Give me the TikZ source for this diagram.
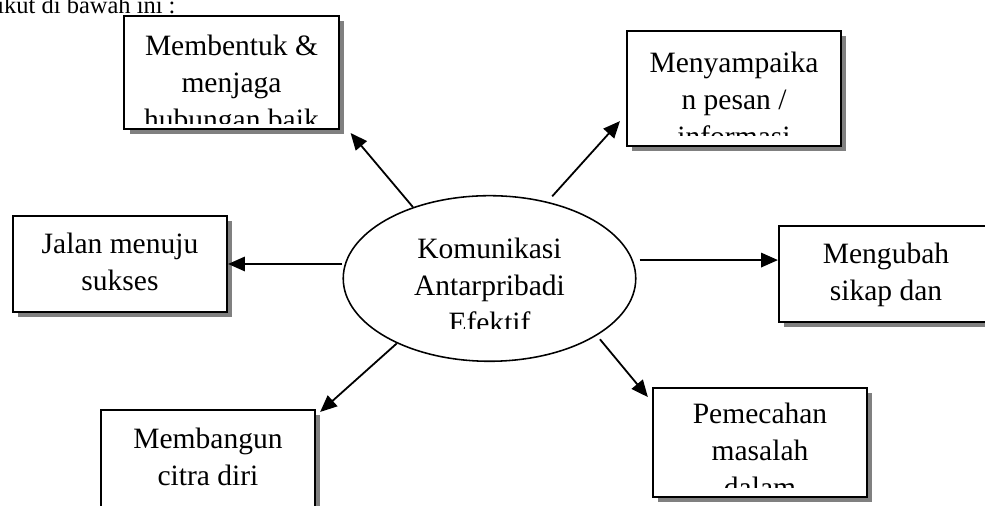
\documentclass[tikz,border=0pt]{standalone}
\usepackage{fontspec}
\setmainfont{Liberation Serif}
\usetikzlibrary{positioning,shadows,arrows.meta,shapes.geometric}

\tikzset{
  kotak/.style={rectangle, draw=black, line width=0.85pt, fill=white, minimum width=89.2pt, inner sep=0pt,
    drop shadow={shadow xshift=2.1pt, shadow yshift=-2.1pt, fill=black!50, opacity=1}},
  teks/.style={align=center, inner sep=0pt, font=\fontsize{12.3pt}{15.4pt}\selectfont},
  panah/.style={line width=0.75pt, -{Triangle[length=7pt,width=6pt]}},
}

\begin{document}
\begin{tikzpicture}[x=0.4167pt, y=0.4167pt]
\useasboundingbox (0,0) rectangle (985,506);
\clip (0,0) rectangle (985,506);

% lead-in line of the page
\node[teks, font=\fontsize{10.2pt}{13pt}\selectfont, anchor=base east] (intro) at (176,492) {berikut di bawah ini :};

% centre
\node[ellipse, draw=black, line width=0.65pt, minimum width=121.9pt, minimum height=69pt, inner sep=0pt] (ell) at (489.5,227.5) {};
\begin{scope}
\clip ([yshift=-21pt]ell.west) rectangle (ell.north -| ell.east);
\node[teks, anchor=north] (tE) at ([yshift=17pt]ell.center) {Komunikasi\\ Antarpribadi\\ Efektif};
\end{scope}

% boxes
\node[kotak, minimum height=47.1pt] (b1) at (231.5,433.5) {};
\begin{scope}
\clip ([yshift=2.9pt]b1.south west) rectangle (b1.north east);
\node[teks, below=8.3pt of b1.north] (t1) {Membentuk \&\\ menjaga\\ hubungan baik};
\end{scope}

\node[kotak, minimum height=47.95pt] (b2) at (734,417.5) {};
\begin{scope}
\clip ([yshift=5pt]b2.south west) rectangle (b2.north east);
\node[teks, below=9.1pt of b2.north] (t2) {Menyampaika\\ n pesan /\\ informasi};
\end{scope}

\node[kotak, minimum height=40pt] (b3) at (120,242) {};
\node[teks, below=7.4pt of b3.north] (t3) {Jalan menuju\\ sukses};

\node[kotak, minimum height=40pt] (b4) at (886,232) {};
\node[teks, below=7.4pt of b4.north] (t4) {Mengubah\\ sikap dan};

\node[kotak, minimum height=47.1pt] (b5) at (208,39.5) {};
\node[teks, below=7.8pt of b5.north] (t5) {Membangun\\ citra diri};

\node[kotak, minimum height=45.4pt] (b6) at (760,63.5) {};
\begin{scope}
\clip ([yshift=4.2pt]b6.south west) rectangle (b6.north east);
\node[teks, below=6.6pt of b6.north] (t6) {Pemecahan\\ masalah\\ dalam};
\end{scope}

% arrows
\coordinate (k4) at ([yshift=5.8pt]b4.west);
\draw[panah] (ell.137) -- ([xshift=4.6pt,yshift=-1.25pt]b1.south east);
\draw[panah, shorten <=3pt] (ell.53) -- ([xshift=-2.5pt,yshift=10.8pt]b2.south west);
\draw[panah] (ell.west |- b3.east) -- (b3.east);
\draw[panah, shorten <=1.3pt] (k4 -| ell.east) -- (k4);
\draw[panah] (ell.215) -- ([xshift=1.7pt,yshift=-1.25pt]b5.north east);
\draw[panah, shorten <=2pt] (ell.-28) -- ([xshift=-1.7pt,yshift=-4.2pt]b6.north west);
\end{tikzpicture}
\end{document}
